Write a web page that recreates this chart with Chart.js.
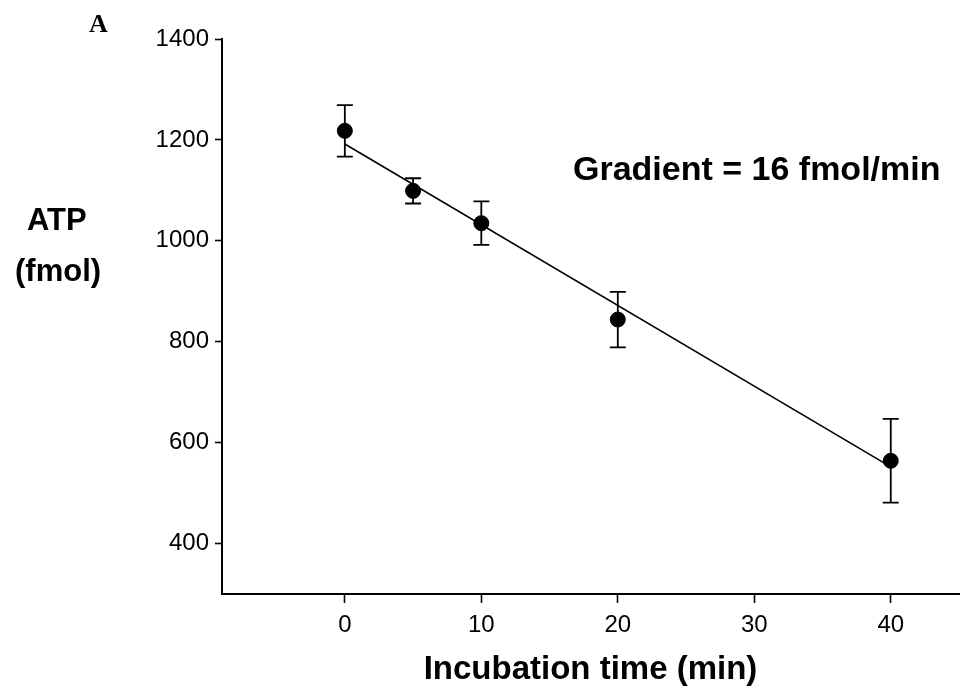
<!DOCTYPE html>
<html>
<head>
<meta charset="utf-8">
<script src="https://cdn.jsdelivr.net/npm/chart.js@4.4.1/dist/chart.umd.min.js"></script>
<style>
  html, body { margin: 0; padding: 0; background: #fff; }
  #wrap { position: relative; width: 974px; height: 696px; }
</style>
</head>
<body>
<div id="wrap"><canvas id="atpChart" width="974" height="696"></canvas></div>
<script>
// values
const times = [0, 5, 10, 20, 40];
const atp = [1218, 1099, 1035, 844, 564];
const atpErr = [51, 25, 43, 55, 83];
const fitTimes = [0, 40];
const fitAtp = [1192, 552];
const xTicks = [0, 10, 20, 30, 40];
const yTicks = [400, 600, 800, 1000, 1200, 1400];

const FONT = "'Liberation Sans', Arial, sans-serif";
const NARROW = "'Liberation Sans Narrow', 'Arial Narrow', 'Liberation Sans', sans-serif";

// vertical error bars with caps
const errorBars = {
    id: "errorBars",
    afterDatasetsDraw(chart) {
        const ctx = chart.ctx;
        const x = chart.scales.x, y = chart.scales.y;
        ctx.save();
        ctx.strokeStyle = "#000";
        ctx.lineWidth = 1.8;
        times.forEach((t, i) => {
            const px = x.getPixelForValue(t);
            const top = y.getPixelForValue(atp[i] + atpErr[i]);
            const bot = y.getPixelForValue(atp[i] - atpErr[i]);
            ctx.beginPath();
            ctx.moveTo(px, top); ctx.lineTo(px, bot);
            ctx.moveTo(px - 8, top); ctx.lineTo(px + 8, top);
            ctx.moveTo(px - 8, bot); ctx.lineTo(px + 8, bot);
            ctx.stroke();
        });
        ctx.restore();
    }
};

// panel letter, y label and gradient note
const labels = {
    id: "labels",
    afterDraw(chart) {
        const ctx = chart.ctx;
        ctx.save();
        ctx.fillStyle = "#000";
        ctx.textBaseline = "alphabetic";
        ctx.textAlign = "left";
        ctx.font = "bold 26px 'Liberation Serif', 'Times New Roman', serif";
        ctx.fillText("A", 89, 32);
        ctx.font = "bold 31px " + FONT;
        ctx.fillText("ATP", 27, 230);
        ctx.fillText("(fmol)", 15, 281);
        ctx.font = "bold 34px " + FONT;
        ctx.fillText("Gradient = 16 fmol/min", 573, 180);
        ctx.restore();
    }
};

new Chart(document.getElementById("atpChart"), {
    type: "scatter",
    data: {
        datasets: [{
            label: "ATP",
            data: times.map((t, i) => ({ x: t, y: atp[i] })),
            backgroundColor: "#000",
            borderColor: "#000",
            pointRadius: 7.5,
            pointHoverRadius: 7.5
        }, {
            label: "Fit",
            type: "line",
            data: fitTimes.map((t, i) => ({ x: t, y: fitAtp[i] })),
            borderColor: "#000",
            borderWidth: 1.6,
            pointRadius: 0,
            fill: false
        }]
    },
    options: {
        responsive: false,
        animation: false,
        events: [],
        layout: { padding: { left: 0, right: 15, top: 39, bottom: 0 } },
        plugins: {
            legend: { display: false },
            tooltip: { enabled: false }
        },
        scales: {
            x: {
                type: "linear",
                min: -9,
                max: 45,
                afterBuildTicks: s => { s.ticks = xTicks.map(v => ({ value: v })); },
                afterFit: s => { s.height = 102; },
                border: { display: true, color: "#000", width: 2 },
                grid: { drawOnChartArea: false, drawTicks: true, tickLength: 9, tickColor: "#000", tickWidth: 1.6 },
                ticks: { color: "#000", font: { family: NARROW, size: 24 }, padding: 8, callback: v => String(v) },
                title: {
                    display: true,
                    text: "Incubation time (min)",
                    color: "#000",
                    font: { family: FONT, size: 33, weight: "bold" },
                    padding: { top: 0, bottom: 6 }
                }
            },
            y: {
                min: 300,
                max: 1400,
                afterBuildTicks: s => { s.ticks = yTicks.map(v => ({ value: v })); },
                afterFit: s => { s.width = 222; },
                border: { display: true, color: "#000", width: 2 },
                grid: { drawOnChartArea: false, drawTicks: true, tickLength: 7, tickColor: "#000", tickWidth: 1.6 },
                ticks: { color: "#000", font: { family: FONT, size: 24 }, padding: 6, callback: v => String(v) }
            }
        }
    },
    plugins: [errorBars, labels]
});
</script>
</body>
</html>
